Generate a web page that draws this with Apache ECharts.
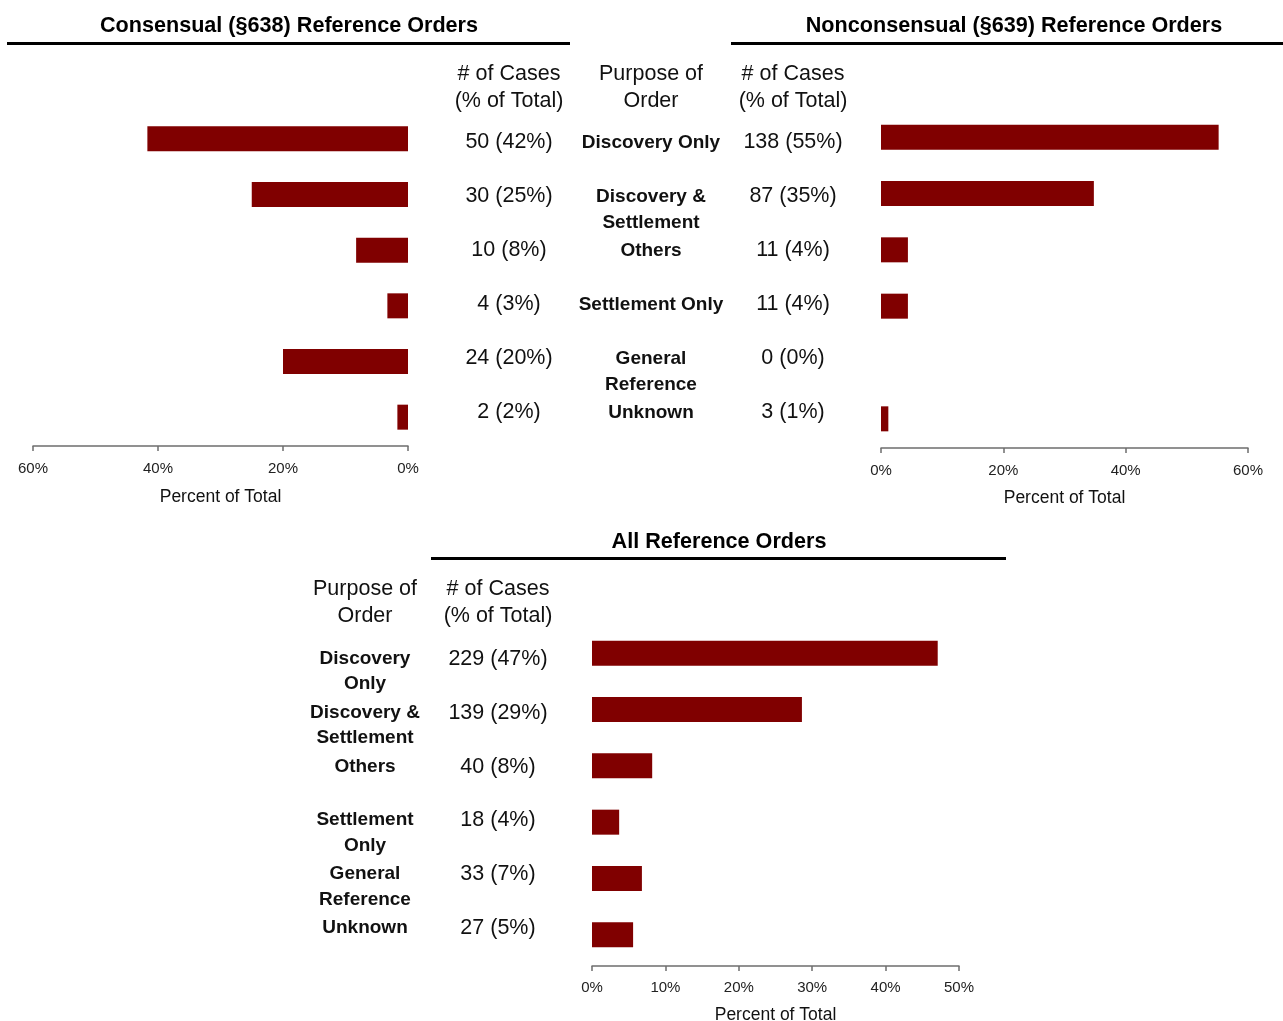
<!DOCTYPE html>
<html>
<head>
<meta charset="utf-8">
<title>Reference Orders by Purpose</title>
<script src="https://cdn.jsdelivr.net/npm/echarts@6/dist/echarts.min.js"></script>
<style>
  html, body { margin: 0; padding: 0; background: #fff; }
  #chart { width: 1283px; height: 1021px; }
</style>
</head>
<body>
<div id="chart"></div>
<script>
// purpose of order, row order top -> bottom
const purposesTop = ['Discovery Only', 'Discovery &\nSettlement', 'Others', 'Settlement Only', 'General\nReference', 'Unknown'];
const purposesAll = ['Discovery\nOnly', 'Discovery &\nSettlement', 'Others', 'Settlement\nOnly', 'General\nReference', 'Unknown'];

// consensual (§638)
const consensualCases = ['50 (42%)', '30 (25%)', '10 (8%)', '4 (3%)', '24 (20%)', '2 (2%)'];
const consensualPct = [41.7, 25, 8.3, 3.3, 20, 1.7];

// nonconsensual (§639)
const nonconsensualCases = ['138 (55%)', '87 (35%)', '11 (4%)', '11 (4%)', '0 (0%)', '3 (1%)'];
const nonconsensualPct = [55.2, 34.8, 4.4, 4.4, 0, 1.2];

// all reference orders
const allCases = ['229 (47%)', '139 (29%)', '40 (8%)', '18 (4%)', '33 (7%)', '27 (5%)'];
const allPct = [47.1, 28.6, 8.2, 3.7, 6.8, 5.6];

const topTicks = { min: 0, max: 60, interval: 20 };
const allTicks = { min: 0, max: 50, interval: 10 };

const FONT = "'Liberation Sans', Arial, Helvetica, sans-serif";
const BAR_COLOR = '#800000';
const AXIS_COLOR = '#6e6e6e';

const chart = echarts.init(document.getElementById('chart'));

// value axis used under each bar panel
const pctAxis = (gridIndex, ticks, inverse, offset, margin, nameGap) => ({
  gridIndex,
  type: 'value',
  min: ticks.min,
  max: ticks.max,
  interval: ticks.interval,
  inverse,
  offset,
  axisLine: { show: true, lineStyle: { color: AXIS_COLOR, width: 1.5 } },
  axisTick: { show: true, length: 5, lineStyle: { color: AXIS_COLOR, width: 1.5 } },
  axisLabel: {
    formatter: '{value}%',
    fontFamily: FONT,
    fontSize: 15,
    color: '#222',
    margin,
  },
  splitLine: { show: false },
  name: 'Percent of Total',
  nameLocation: 'middle',
  nameGap,
  nameTextStyle: { fontFamily: FONT, fontSize: 17.5, color: '#111' },
});

const hiddenX = (gridIndex) => ({ gridIndex, type: 'value', show: false });

const barAxis = (gridIndex, data) => ({
  gridIndex,
  type: 'category',
  data,
  inverse: true,
  show: false,
});

// category axis that only shows text labels (used for table columns)
const textAxis = (gridIndex, data, position, bold) => ({
  gridIndex,
  type: 'category',
  data,
  inverse: true,
  position,
  axisLine: { show: false },
  axisTick: { show: false },
  splitLine: { show: false },
  axisLabel: {
    interval: 0,
    margin: 0,
    align: 'center',
    verticalAlign: bold ? 'top' : 'middle',
    lineHeight: 25.5,
    fontFamily: FONT,
    fontSize: bold ? 19 : 21.5,
    fontWeight: bold ? 'bold' : 'normal',
    color: '#111',
  },
});

const barSeries = (axisIndex, data) => ({
  type: 'bar',
  xAxisIndex: axisIndex,
  yAxisIndex: axisIndex,
  data,
  barWidth: 25,
  itemStyle: { color: BAR_COLOR },
  silent: true,
});

const titleText = (x, y, text) => ({
  type: 'text',
  x,
  y,
  style: {
    text,
    fontFamily: FONT,
    fontSize: 21.6,
    fontWeight: 'bold',
    fill: '#000',
    align: 'center',
    verticalAlign: 'middle',
  },
});

const headerText = (x, y, text) => ({
  type: 'text',
  x,
  y,
  style: {
    text,
    fontFamily: FONT,
    fontSize: 21.5,
    lineHeight: 27,
    fill: '#111',
    align: 'center',
    verticalAlign: 'top',
  },
});

const rule = (x1, x2, y) => ({
  type: 'line',
  shape: { x1, y1: y, x2, y2: y },
  style: { stroke: '#000', lineWidth: 3 },
});

const grid = (left, top, width, height) => ({
  left, top, width, height, outerBoundsMode: 'none',
});

const option = {
  animation: false,
  backgroundColor: '#fff',
  grid: [
    grid(33, 111, 375, 334),   // 0 consensual bars
    grid(881, 109, 367, 338),  // 1 nonconsensual bars
    grid(592, 625, 367, 338),  // 2 all bars
    grid(509, 115, 284, 324),  // 3 top case counts
    grid(651, 103.5, 1, 324),  // 4 top purposes
    grid(498, 632, 1, 323),    // 5 bottom case counts
    grid(365, 619, 1, 323),    // 6 bottom purposes
  ],
  xAxis: [
    pctAxis(0, topTicks, true, 1, 15.5, 42),
    pctAxis(1, topTicks, false, 1, 15.5, 41),
    pctAxis(2, allTicks, false, 3, 14.5, 40),
    hiddenX(3),
    hiddenX(4),
    hiddenX(5),
    hiddenX(6),
  ],
  yAxis: [
    barAxis(0, purposesTop),
    barAxis(1, purposesTop),
    barAxis(2, purposesAll),
    textAxis(3, consensualCases, 'left', false),
    textAxis(3, nonconsensualCases, 'right', false),
    textAxis(4, purposesTop, 'left', true),
    textAxis(5, allCases, 'left', false),
    textAxis(6, purposesAll, 'left', true),
  ],
  series: [
    barSeries(0, consensualPct),
    barSeries(1, nonconsensualPct),
    barSeries(2, allPct),
  ],
  graphic: [
    titleText(289, 26.5, 'Consensual (§638) Reference Orders'),
    rule(7, 570, 43.5),
    titleText(1014, 26.5, 'Nonconsensual (§639) Reference Orders'),
    rule(731, 1296, 43.5),
    titleText(719, 542.5, 'All Reference Orders'),
    rule(431, 1006, 558.5),
    headerText(509, 60.5, '# of Cases\n(% of Total)'),
    headerText(651, 60.5, 'Purpose of\nOrder'),
    headerText(793, 60.5, '# of Cases\n(% of Total)'),
    headerText(365, 575.5, 'Purpose of\nOrder'),
    headerText(498, 575.5, '# of Cases\n(% of Total)'),
  ],
};

chart.setOption(option);
</script>
</body>
</html>
